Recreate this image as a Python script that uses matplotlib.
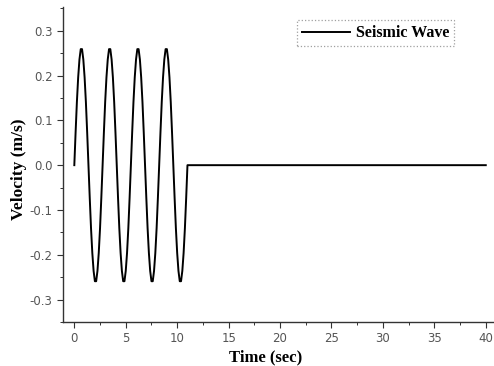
import matplotlib
matplotlib.use("Agg")
import matplotlib.pyplot as plt
from matplotlib.ticker import MultipleLocator

# Time samples (sec) of the oscillating part (every 0.125 s)
time_wave = [0.000, 0.125, 0.250, 0.375, 0.500, 0.625, 0.750, 0.875, 1.000, 1.125, 1.250,
             1.375, 1.500, 1.625, 1.750, 1.875, 2.000, 2.125, 2.250, 2.375, 2.500, 2.625,
             2.750, 2.875, 3.000, 3.125, 3.250, 3.375, 3.500, 3.625, 3.750, 3.875, 4.000,
             4.125, 4.250, 4.375, 4.500, 4.625, 4.750, 4.875, 5.000, 5.125, 5.250, 5.375,
             5.500, 5.625, 5.750, 5.875, 6.000, 6.125, 6.250, 6.375, 6.500, 6.625, 6.750,
             6.875, 7.000, 7.125, 7.250, 7.375, 7.500, 7.625, 7.750, 7.875, 8.000, 8.125,
             8.250, 8.375, 8.500, 8.625, 8.750, 8.875, 9.000, 9.125, 9.250, 9.375, 9.500,
             9.625, 9.750, 9.875, 10.000, 10.125, 10.250, 10.375, 10.500, 10.625, 10.750, 10.875,
             11.000]
velocity_wave = [0.000, 0.073, 0.141, 0.196, 0.236, 0.259, 0.259, 0.236, 0.196, 0.141, 0.073,
                 0.000, -0.073, -0.141, -0.196, -0.236, -0.259, -0.259, -0.236, -0.196, -0.141, -0.073,
                 0.000, 0.073, 0.141, 0.196, 0.236, 0.259, 0.259, 0.236, 0.196, 0.141, 0.073,
                 0.000, -0.073, -0.141, -0.196, -0.236, -0.259, -0.259, -0.236, -0.196, -0.141, -0.073,
                 0.000, 0.073, 0.141, 0.196, 0.236, 0.259, 0.259, 0.236, 0.196, 0.141, 0.073,
                 0.000, -0.073, -0.141, -0.196, -0.236, -0.259, -0.259, -0.236, -0.196, -0.141, -0.073,
                 0.000, 0.073, 0.141, 0.196, 0.236, 0.259, 0.259, 0.236, 0.196, 0.141, 0.073,
                 0.000, -0.073, -0.141, -0.196, -0.236, -0.259, -0.259, -0.236, -0.196, -0.141, -0.073,
                 0.000]
# Quiet part after the wave
time_rest = [11.0, 40.0]
velocity_rest = [0.0, 0.0]

time = time_wave + time_rest[1:]
velocity = velocity_wave + velocity_rest[1:]

x_ticks = [0, 5, 10, 15, 20, 25, 30, 35, 40]
y_ticks = [-0.3, -0.2, -0.1, 0.0, 0.1, 0.2, 0.3]

fig = plt.figure(figsize=(4.94, 3.66), dpi=100)
ax = fig.add_axes([63 / 494, 44 / 366, (494 - 63) / 494, (322 - 7) / 366])

ax.plot(time, velocity, color="black", lw=1.4, label="Seismic Wave")

ax.set_xlim(-1.1, 40.8)
ax.set_ylim(-0.35, 0.353)
ax.set_xticks(x_ticks)
ax.set_yticks(y_ticks)
ax.set_yticklabels([f"{v:.1f}" for v in y_ticks])
ax.xaxis.set_minor_locator(MultipleLocator(2.5))
ax.yaxis.set_minor_locator(MultipleLocator(0.05))

for s in ("top", "right"):
    ax.spines[s].set_visible(False)
for s in ("left", "bottom"):
    ax.spines[s].set_linewidth(1.0)
    ax.spines[s].set_color("#333333")

ax.tick_params(which="major", direction="out", length=4, width=0.8,
               colors="#333333", labelsize=8.5, labelcolor="#555555")
ax.tick_params(which="minor", direction="out", length=2, width=0.7, colors="#333333")
for lab in ax.get_xticklabels() + ax.get_yticklabels():
    lab.set_family("DejaVu Sans")

ax.set_xlabel("Time (sec)", family="Liberation Serif", fontweight="bold", fontsize=12)
ax.set_ylabel("Velocity (m/s)", family="Liberation Serif", fontweight="bold", fontsize=12.5)
ax.xaxis.set_label_coords((266 - 63) / 431, -27 / 315)
ax.yaxis.set_label_coords(-36 / 431, (322 - 169) / 315)

leg = ax.legend(loc="upper left", bbox_to_anchor=(234 / 431, (322 - 22) / 315 + 0.005),
                prop={"family": "Liberation Serif", "weight": "bold", "size": 11.5},
                frameon=True, fancybox=False, handlelength=3.0, handletextpad=0.4,
                borderpad=0.3, borderaxespad=0)
frame = leg.get_frame()
frame.set_edgecolor("#888888")
frame.set_linestyle(":")
frame.set_linewidth(0.9)

fig.savefig("out.png", dpi=100)
